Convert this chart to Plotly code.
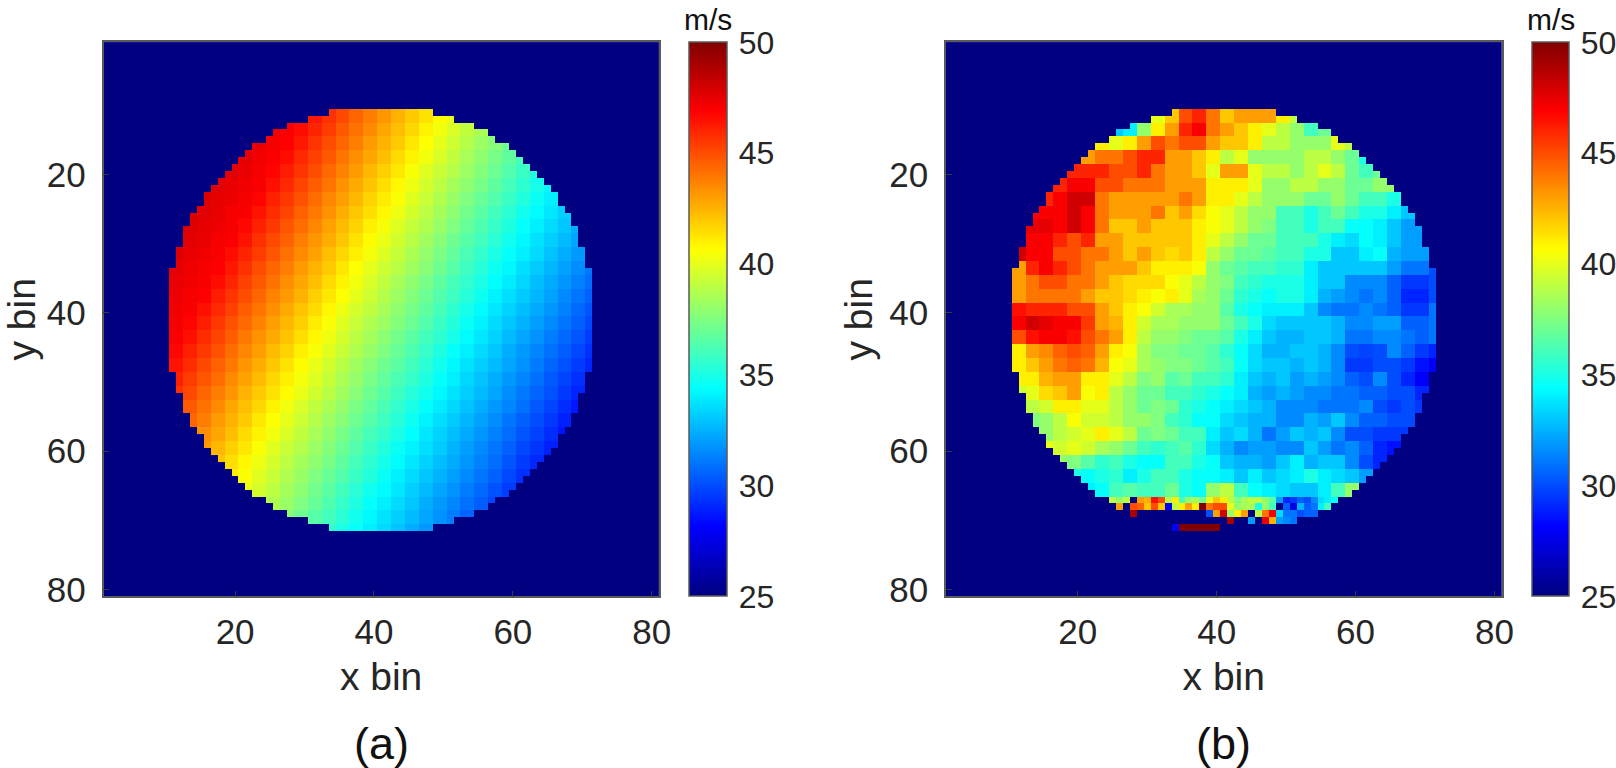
import plotly.graph_objects as go

# ---- values -----------------------------------------------------------------
BINS = list(range(1, 82))
FLOOR = 25
ZMIN, ZMAX = 25, 50
TICKS_XY = [20, 40, 60, 80]
TICKS_CB = [25, 30, 35, 40, 45, 50]

# first and last lit column of the disc, rows 11..71
DISC_ROWS = list(range(11, 72))
DISC_LEFT = [34,31,28,26,25,23,22,21,20,19,18,17,16,16,15,14,14,13,13,13,12,12,12,11,11,11,11,11,11,11,11,
             11,11,11,11,11,11,11,
             12,12,12,13,13,13,14,14,15,16,16,17,18,19,20,21,22,23,25,26,28,31,34]
DISC_RIGHT = [48,51,54,56,57,59,60,61,62,63,64,65,66,66,67,68,68,69,69,69,70,70,70,71,71,71,71,71,71,71,71,
              71,71,71,71,71,71,71,
              70,70,70,69,69,69,68,68,67,66,66,65,64,63,62,61,60,59,57,56,54,51,48]

# values per 2x2 bin block: block's first row -> (first column, values every second column)
A_ROWS = [11,13,15,17,19,21,23,25,27,29,31,33,35,37,39,41,43,45,47,49,51,53,55,57,59,61,63,65,67,69,71]
A_FIRST_COL = [31,25,23,21,19,17,15,13,13,13,11,11,11,11,11,11,11,11,11,11,11,13,13,15,15,17,19,21,25,27,33]
A_VALUES = [
 [46.3,45.7,45.1,44.4,43.8,43.2,42.5,41.9,41.3,40.7,40.1],
 [47.2,47.0,46.6,46.0,45.4,44.7,44.1,43.5,42.8,42.2,41.6,40.9,40.3,39.7,39.1,38.6],
 [47.4,47.1,46.9,46.3,45.6,45.0,44.4,43.8,43.1,42.5,41.9,41.2,40.6,40.0,39.4,38.8,38.2,37.7,37.1],
 [47.5,47.2,47.0,46.6,45.9,45.3,44.7,44.0,43.4,42.8,42.2,41.5,40.9,40.3,39.7,39.1,38.5,37.9,37.3,36.7,36.1],
 [47.6,47.4,47.1,46.8,46.2,45.6,45.0,44.3,43.7,43.1,42.4,41.8,41.2,40.5,39.9,39.3,38.8,38.2,37.6,37.0,36.4,35.8,35.2],
 [47.6,47.4,47.2,47.0,46.5,45.9,45.2,44.6,44.0,43.3,42.7,42.1,41.4,40.8,40.2,39.6,39.0,38.4,37.9,37.3,36.7,36.1,35.5,34.9,34.3],
 [47.7,47.5,47.3,47.1,46.8,46.1,45.5,44.9,44.2,43.6,43.0,42.4,41.7,41.1,40.5,39.9,39.3,38.7,38.1,37.5,36.9,36.4,35.8,35.2,34.6,34.0],
 [47.8,47.6,47.4,47.1,47.0,46.4,45.8,45.2,44.5,43.9,43.3,42.6,42.0,41.4,40.8,40.2,39.6,39.0,38.4,37.8,37.2,36.6,36.0,35.4,34.8,34.3,33.8,33.2],
 [47.7,47.5,47.3,47.1,46.7,46.1,45.5,44.8,44.2,43.6,42.9,42.3,41.7,41.0,40.4,39.8,39.2,38.7,38.1,37.5,36.9,36.3,35.7,35.1,34.5,34.0,33.5,33.0,32.4],
 [47.6,47.4,47.1,47.0,46.4,45.7,45.1,44.5,43.8,43.2,42.6,42.0,41.3,40.7,40.1,39.5,38.9,38.3,37.7,37.1,36.5,36.0,35.4,34.8,34.2,33.7,33.2,32.7,32.2],
 [47.7,47.4,47.2,47.0,46.6,46.0,45.4,44.8,44.1,43.5,42.9,42.2,41.6,41.0,40.4,39.8,39.2,38.6,38.0,37.4,36.8,36.2,35.6,35.0,34.5,34.0,33.5,32.9,32.4,31.9],
 [47.6,47.3,47.1,46.9,46.3,45.7,45.0,44.4,43.8,43.1,42.5,41.9,41.2,40.6,40.0,39.4,38.9,38.3,37.7,37.1,36.5,35.9,35.3,34.7,34.2,33.6,33.1,32.6,32.1,31.6,31.0],
 [47.4,47.2,47.0,46.6,46.0,45.3,44.7,44.1,43.4,42.8,42.2,41.5,40.9,40.3,39.7,39.1,38.5,37.9,37.3,36.7,36.1,35.6,35.0,34.4,33.9,33.4,32.8,32.3,31.8,31.3,30.8],
 [47.3,47.1,46.9,46.2,45.6,45.0,44.4,43.7,43.1,42.5,41.8,41.2,40.6,40.0,39.4,38.8,38.2,37.6,37.0,36.4,35.9,35.3,34.7,34.1,33.6,33.1,32.6,32.1,31.5,31.0,30.5],
 [47.2,47.0,46.5,45.9,45.3,44.6,44.0,43.4,42.7,42.1,41.5,40.8,40.2,39.6,39.1,38.5,37.9,37.3,36.7,36.1,35.5,34.9,34.3,33.8,33.3,32.8,32.3,31.8,31.3,30.7,30.2],
 [47.1,46.8,46.2,45.5,44.9,44.3,43.7,43.0,42.4,41.8,41.1,40.5,39.9,39.3,38.7,38.2,37.6,37.0,36.4,35.8,35.2,34.6,34.1,33.5,33.0,32.5,32.0,31.5,31.0,30.5,29.9],
 [47.0,46.5,45.8,45.2,44.6,43.9,43.3,42.7,42.1,41.4,40.8,40.2,39.6,39.0,38.4,37.8,37.2,36.6,36.0,35.5,34.9,34.3,33.8,33.3,32.7,32.2,31.7,31.2,30.7,30.2,29.6],
 [46.7,46.1,45.5,44.9,44.2,43.6,43.0,42.3,41.7,41.0,40.5,39.9,39.3,38.7,38.1,37.5,36.9,36.3,35.7,35.1,34.5,34.0,33.5,33.0,32.4,31.9,31.4,30.9,30.4,29.9,29.3],
 [46.4,45.8,45.1,44.5,43.9,43.2,42.6,42.0,41.3,40.7,40.1,39.5,38.9,38.3,37.7,37.1,36.6,36.0,35.4,34.8,34.2,33.7,33.2,32.7,32.2,31.7,31.2,30.6,30.1,29.6,29.0],
 [46.1,45.4,44.8,44.2,43.5,42.9,42.3,41.6,41.0,40.4,39.8,39.2,38.6,38.0,37.4,36.8,36.2,35.7,35.1,34.5,34.0,33.4,32.9,32.4,31.9,31.4,30.9,30.3,29.8,29.3],
 [45.7,45.1,44.4,43.8,43.2,42.5,41.9,41.3,40.7,40.1,39.5,38.9,38.3,37.7,37.1,36.5,35.9,35.3,34.8,34.2,33.7,33.2,32.7,32.2,31.6,31.1,30.6,30.1,29.5,29.0],
 [44.7,44.1,43.5,42.8,42.2,41.6,40.9,40.3,39.7,39.1,38.6,38.0,37.4,36.8,36.2,35.6,35.0,34.4,33.9,33.4,32.9,32.4,31.9,31.4,30.9,30.3,29.8,29.2,28.7],
 [44.4,43.8,43.1,42.5,41.9,41.2,40.6,40.0,39.4,38.8,38.2,37.7,37.1,36.5,35.9,35.3,34.7,34.1,33.6,33.1,32.6,32.1,31.6,31.0,30.5,30.0,29.5,28.9],
 [43.4,42.8,42.2,41.5,40.9,40.3,39.7,39.1,38.5,37.9,37.3,36.7,36.1,35.6,35.0,34.4,33.8,33.3,32.8,32.3,31.8,31.3,30.8,30.2,29.7,29.2,28.6],
 [43.1,42.4,41.8,41.2,40.5,39.9,39.3,38.8,38.2,37.6,37.0,36.4,35.8,35.2,34.6,34.1,33.6,33.1,32.5,32.0,31.5,31.0,30.5,29.9,29.4,28.9],
 [42.1,41.4,40.8,40.2,39.6,39.0,38.4,37.9,37.3,36.7,36.1,35.5,34.9,34.3,33.8,33.3,32.8,32.3,31.8,31.3,30.8,30.2,29.6,29.1],
 [41.1,40.5,39.9,39.3,38.7,38.1,37.5,36.9,36.4,35.8,35.2,34.6,34.0,33.5,33.0,32.5,32.0,31.5,31.0,30.5,29.9,29.3],
 [40.2,39.6,39.0,38.4,37.8,37.2,36.6,36.0,35.4,34.8,34.3,33.8,33.2,32.7,32.2,31.7,31.2,30.7,30.1,29.6],
 [38.7,38.1,37.5,36.9,36.3,35.7,35.1,34.5,34.0,33.5,33.0,32.4,31.9,31.4,30.9,30.4,29.9],
 [37.7,37.1,36.5,36.0,35.4,34.8,34.2,33.7,33.2,32.7,32.2,31.7,31.2,30.6],
 [35.6,35.0,34.5,34.0,33.5,32.9,32.4,31.9],
]

B_ROWS = [11,13,15,17,19,21,23,25,27,29,31,33,35,37,39,41,43,45,47,49,51,53,55,57,59,61,63,65]
B_FIRST_COL = [31,25,23,21,19,17,15,13,13,13,11,11,11,11,11,11,11,11,11,11,11,13,13,15,15,17,19,21]
B_VALUES = [
 [40,42,45,46,44,42,43,43,43,41,39],
 [33,34,38,41,43,46,47,44,43,42,41,40,39,38,36,37],
 [41,40,41,43,45,44,45,45,43,42,42,41,39,39,38,38,38,40,39],
 [43,44,44,45,46,46,43,43,42,41,39,40,38,38,38,38,39,39,38,37,35],
 [46,46,46,45,45,46,44,43,43,42,40,43,43,40,39,39,38,39,40,39,37,36,37],
 [46,47,47,45,45,44,44,44,43,43,43,41,41,41,40,38,38,39,39,38,38,37,37,38,38],
 [46,47,48,48,44,43,43,43,43,43,44,43,41,41,40,39,38,38,38,37,37,38,37,36,36,35],
 [47,47,47,48,47,44,43,43,43,44,42,43,41.5,40.5,40,39,38,38,36,36,35,36,37,36,35,35,34,33],
 [47.5,47.5,47,48,47,44,42,42,43,42,42,42,41,40.5,40,39,38,37.5,36,36,35,36,36,34.5,34.5,34,33,32,32],
 [47,47,46,45,46,43,43,42,42,42,42,42,41,40,39,38,37,37,36,36,36,35,34,33.5,34.5,34,33,32,32],
 [48,47,47,45,45,44,44,43,42,43,42,41.5,42,41,39,38,37,37,36.5,36,36,35,35,33,33,34,34.5,32.5,32,32],
 [43,46,47,46,45,44,43,43,43,42,41,41,41,40.5,38,37,36.5,36,36,35.5,35.5,34,33,33,33,33,33,32,31,31,30],
 [43,44,45,45,44,44,43,42,41.5,41.5,41.5,40.5,40,39,38,37.5,36,35.5,35,35,35,34,33,33,31.5,31.5,31.5,30.5,29.5,29.5,30],
 [43,44,44,44,44,43,42,42,41.5,41,40.5,41,40,38.5,38,37,35.5,35,34.5,35,35,34,32.5,32,31.5,31,31.5,30.5,29,29,30],
 [46.5,46,46,46,45,45,43,42,41,40.5,39.5,38.5,38.5,38,38,36.5,35,34.5,34,34,34,33,31.5,31,31,31.5,31,30.5,29.5,29.5,31],
 [47,48,47.5,47,47,45.5,43,42.5,41,39.5,38.5,38.5,38,38,38,37,36,35,33.5,33,33,33,33,32.5,31.5,31.5,32,32,30.5,30.5,31],
 [45,46.5,47,47,46.5,45,44,43,41,39,38,38,37.5,37,37,36.5,35,34,33,32.5,32.5,33,33,32.5,31,31,31.5,31.5,31,30.5,31],
 [41,43,43.5,44.5,45,44.5,43,41,40.5,38.5,37.5,37.5,37,37,36.5,35.5,34.5,33.5,32.5,32.5,33,33,32.5,31.5,30,29.8,30,31.5,30.5,29.5,29],
 [41,42,43,44,44.5,44,42.5,40.5,40,38.5,38,37.5,37.5,37,36.5,36,34.5,33.5,33,33,32.5,33,32.5,31.5,29.5,29.5,30,30,29.5,28.5,28],
 [41,41,42.5,43,43,41,41,40,39,37.5,38,36.5,37,36,36,35.5,34,33,32.5,33,32,32.5,32,31.5,30.5,30,31.5,30,29,28],
 [39.5,40,41.5,42,43,40.5,41,39,38,37,37,36,36,35.5,35,34.5,34,32.5,32,32.5,32,31.5,31.5,31,31,30.5,30.5,30,30,29],
 [39,39.5,41,41,40,40,39,38,37,37.5,37,35.5,35,34.5,34,33.5,33,32.5,31.5,31.5,31.5,31,31,31,31.5,30,29.5,30,29.5],
 [37.5,38,39,40.5,39.5,39.5,39,38,38,37.5,36,35.5,34.5,34.5,33.5,33,32.5,32.5,31.5,31.5,32.5,32,33,31.5,30.5,30.5,30,30],
 [38,39,39.5,40,41,40,39,37,37.5,37,36,36,34,33,33.5,32.5,31,32,33,32.5,33,31.5,30,30,29.5,29.5,29.5],
 [40,39.5,40,39.5,38.5,38,37,36,35.5,36,36.5,35.5,33.5,32.5,31.5,32,32,31.5,31.5,33,32,31,31.5,30.5,29,28.5],
 [38,37.5,36.5,35.5,36,35,34.5,34.5,36,36,35,34.5,33,32.5,32.5,32,33,34,32.5,33,33,31.5,30,29],
 [35,34.5,35,35.5,34,35,36,36,35,34.5,34.5,34,33,34,33,33.5,34,35,34,33.5,33,32],
 [34,34.5,36,36.5,36,36,37,35,34.5,38,39,36,34.5,34,33.5,33,33,34,36,38],
]

# bottom edge of panel (b), one value per bin: row -> first column, values (25 = hole)
B_CELL_ROWS = [67, 68, 69, 70, 71]
B_CELL_FIRST_COL = [25, 26, 28, 42, 34]
B_CELL_VALUES = [
 [39,38,39,25,43,42.5,46.5,45,39,41,36,38,38.5,37,40,42,41,39,37.5,38.5,39,39,38,36.5,32,29,29.5,30.5,30,31.5,33.5,34,34.5],
 [43,25,45,44.5,42,45,42,28,39,41,43,41,50,44,45,45,40,38,38.5,38.5,35,38,36,25,30.5,27.5,32.5,30.5,31,34,36],
 [49,25,25,25,25,25,25,25,25,25,25,30,43,48,38,41,43,25,39,44,47,33.5,31,31,30,30.5,30.5],
 [49,25,25,32,25,47.5,42.5,32,31.5,31],
 [28,50,50,50,50,50,50],
]

TITLE_X = "x bin"
TITLE_Y = "y bin"
UNIT = "m/s"
PANEL_LABELS = ["(a)", "(b)"]

# ---- styling ----------------------------------------------------------------
W, H = 1616, 768
TOP, BOTTOM = 42.3, 596.3
PANELS = [(103.5, 658.7), (946.0, 1501.5)]
BARS = [(688.7, 726.7), (1532.3, 1569.3)]
INK = "#262626"
FONT = "Liberation Sans"
JET = [[0, "#000080"], [0.125, "#0000ff"], [0.375, "#00ffff"],
       [0.625, "#ffff00"], [0.875, "#ff0000"], [1, "#800000"]]


def build(rows, first_cols, values):
    grid = [[FLOOR for _ in BINS] for _ in BINS]
    for r, first, vals in zip(rows, first_cols, values):
        for i, v in enumerate(vals):
            c = first + 2 * i
            for rr in (r, r + 1):
                if rr not in DISC_ROWS:
                    continue
                k = DISC_ROWS.index(rr)
                for cc in (c, c + 1):
                    if DISC_LEFT[k] <= cc <= DISC_RIGHT[k]:
                        grid[rr - 1][cc - 1] = v
    return grid


Z_A = build(A_ROWS, A_FIRST_COL, A_VALUES)
Z_B = build(B_ROWS, B_FIRST_COL, B_VALUES)
for r, first, vals in zip(B_CELL_ROWS, B_CELL_FIRST_COL, B_CELL_VALUES):
    for i, v in enumerate(vals):
        Z_B[r - 1][first + i - 1] = v

fig = go.Figure()
for n, (z, (x0, x1), (b0, b1)) in enumerate(zip([Z_A, Z_B], PANELS, BARS), start=1):
    suffix = "" if n == 1 else str(n)
    fig.add_trace(go.Heatmap(
        z=z, x=BINS, y=BINS, zmin=ZMIN, zmax=ZMAX, colorscale=JET,
        xaxis="x" + suffix, yaxis="y" + suffix,
        colorbar=dict(
            x=b0 / W, xanchor="left", xpad=0, ypad=0,
            y=1 - TOP / H, yanchor="top", len=(BOTTOM - TOP) / H, lenmode="fraction",
            thickness=b1 - b0, thicknessmode="pixels",
            tickvals=TICKS_CB, ticks="outside", ticklen=5, tickcolor="rgba(0,0,0,0)",
            tickfont=dict(family=FONT, size=32, color=INK),
            outlinecolor="#5a5a5a", outlinewidth=1.5,
        ),
    ))
    axis = dict(
        ticks="inside", ticklen=6, tickwidth=1, tickcolor="#3a3a3a",
        showline=True, linecolor="#5a5a5a", linewidth=1.5, mirror=True,
        showgrid=False, zeroline=False,
        tickfont=dict(family=FONT, size=35, color=INK),
        tickvals=TICKS_XY,
    )
    fig.update_layout({
        "xaxis" + suffix: dict(
            axis, domain=[x0 / W, x1 / W], range=[1.05, 81.0],
            anchor="y" + suffix, ticklabelstandoff=4,
            title=dict(text=TITLE_X, standoff=13, font=dict(family=FONT, size=39, color=INK)),
        ),
        "yaxis" + suffix: dict(
            axis, domain=[1 - BOTTOM / H, 1 - TOP / H], range=[80.98, 0.92],
            anchor="x" + suffix, ticklabelstandoff=9,
            title=dict(text=TITLE_Y, standoff=5, font=dict(family=FONT, size=39, color=INK)),
        ),
    })
    fig.add_annotation(text=UNIT, x=(b0 + b1) / 2 / W, y=1 - 19 / H, xref="paper", yref="paper",
                       showarrow=False, xanchor="center", yanchor="middle",
                       font=dict(family=FONT, size=30, color="#111111"))
    fig.add_annotation(text=PANEL_LABELS[n - 1], x=(x0 + x1) / 2 / W, y=1 - 743 / H,
                       xref="paper", yref="paper", showarrow=False, xanchor="center", yanchor="middle",
                       font=dict(family=FONT, size=45, color="#111111"))

fig.update_layout(
    width=W, height=H, margin=dict(l=0, r=0, t=0, b=0, autoexpand=False),
    paper_bgcolor="white", plot_bgcolor="#000080", showlegend=False,
)
fig.write_html("out.html", config={"displayModeBar": False},
               post_script="document.body.style.margin='0';document.body.style.overflow='hidden';")
